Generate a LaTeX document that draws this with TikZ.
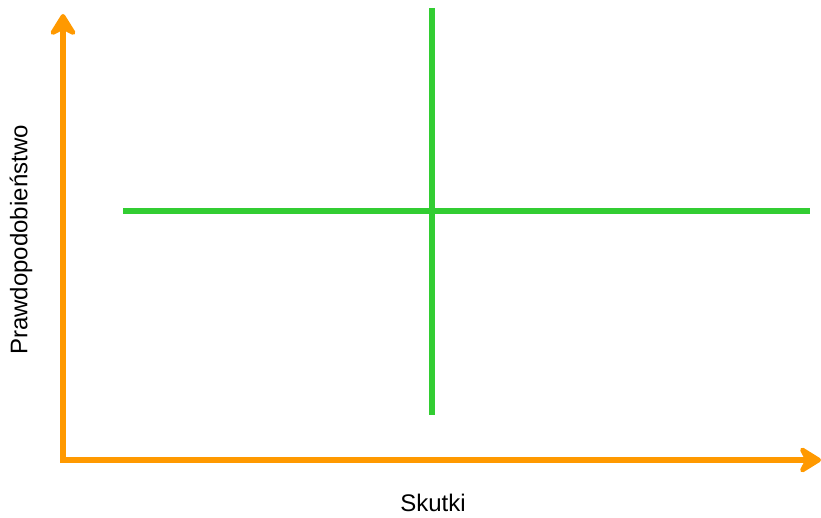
\documentclass[tikz,border=0pt]{standalone}
\usepackage{fontspec}
\setmainfont{Liberation Sans}
\usepackage{xcolor}
\definecolor{axisorange}{RGB}{255, 153, 0}
\definecolor{splitgreen}{RGB}{50, 205, 50}
\usetikzlibrary{arrows.meta, positioning}

\begin{document}
\begin{tikzpicture}[
    x=1pt, y=-1pt,
    axis/.style={
        -{Stealth[length=26pt, width=32pt, inset=8pt, round]}, line width=5.5pt, draw=axisorange
    },
    split/.style={
        line width=5.5pt, draw=splitgreen
    },
    axislabel/.style={
        font=\fontsize{24}{28}\selectfont, inner sep=0pt
    }
]
\useasboundingbox (0,0) rectangle (821,518);

% Axes
\coordinate (origin) at (63,460);
\coordinate (ytop) at (63,14);
\coordinate (xend) at (821,460);
\draw[axis] (origin) ++(0,2.75) -- (ytop);
\draw[axis] (origin) ++(-2.75,0) -- (xend);

% Quadrant lines
\coordinate (hleft) at (123,211);
\coordinate (hright) at (810,211);
\coordinate (vtop) at (432,8);
\coordinate (vbottom) at (432,415);
\draw[split] (hleft) -- (hright);
\draw[split] (vtop) -- (vbottom);

% Labels
\node[axislabel] (effect) at (433,503) {Skutki};
\node[axislabel, rotate=90] (chance) at (21,240) {Prawdopodobieństwo};

\end{tikzpicture}
\end{document}
